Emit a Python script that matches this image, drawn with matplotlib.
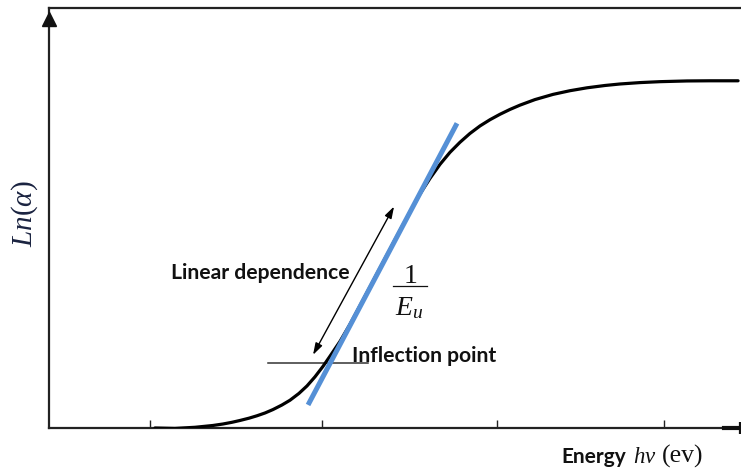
import matplotlib
matplotlib.use("Agg")
import matplotlib.pyplot as plt

plt.rcParams.update({
    "mathtext.fontset": "custom",
    "mathtext.rm": "Liberation Serif",
    "mathtext.it": "Liberation Serif:italic",
})

# Absorption edge: ln(alpha) versus photon energy
energy = [1.029, 1.145, 1.262, 1.366, 1.424, 1.477, 1.523, 1.576, 1.622, 1.669,
          1.715, 1.767, 1.814, 1.866, 1.913, 1.959, 2.006, 2.052, 2.105, 2.163,
          2.221, 2.279, 2.337, 2.395, 2.453, 2.512, 2.570, 2.628, 2.686, 2.744,
          2.802, 2.860, 2.919, 2.977, 3.035, 3.093, 3.151, 3.238, 3.343, 3.442,
          3.541, 3.645, 3.733, 3.849, 3.965, 4.122, 4.256, 4.419]
ln_alpha = [0.000, -0.010, 0.017, 0.060, 0.095, 0.136, 0.179, 0.234, 0.291, 0.358,
            0.439, 0.547, 0.661, 0.823, 1.002, 1.217, 1.468, 1.742, 2.064, 2.470,
            2.912, 3.358, 3.807, 4.253, 4.702, 5.143, 5.573, 5.943, 6.277, 6.563,
            6.802, 7.012, 7.193, 7.341, 7.470, 7.585, 7.687, 7.819, 7.943, 8.031,
            8.100, 8.155, 8.191, 8.224, 8.246, 8.263, 8.267, 8.267]

# Tangent through the linear (Urbach) region
tangent_x = [1.919, 2.785]
tangent_y = [0.549, 7.255]

# Inflection marker and the double arrow along the linear part
inflection_x = [1.686, 2.267]
inflection_y = [1.551, 1.551]
arrow_start = (2.419, 5.274)
arrow_end = (1.948, 1.742)

x_ticks = [1.0, 2.0, 3.02, 3.99]

fig = plt.figure(figsize=(7.41, 4.73), dpi=100)
ax = fig.add_axes([49 / 741, 45 / 473, 1 - 49 / 741, 420 / 473])
ax.set_xlim(0.413, 4.436)
ax.set_ylim(0, 10)

ax.plot(energy, ln_alpha, color="black", lw=2.3, solid_capstyle="round",
        solid_joinstyle="round", zorder=3)
ax.plot(tangent_x, tangent_y, color="#5590d6", lw=3.6, solid_capstyle="butt", zorder=4)
ax.plot(inflection_x, inflection_y, color="#333333", lw=1.1, zorder=2)

ax.annotate("", xy=arrow_start, xytext=arrow_end,
            arrowprops=dict(arrowstyle="<|-|>,head_length=0.7,head_width=0.22",
                            color="black", lw=1.0, shrinkA=0, shrinkB=0))

# Axis styling
ax.spines["right"].set_visible(False)
for side in ("left", "bottom", "top"):
    ax.spines[side].set_linewidth(1.6)
    ax.spines[side].set_color("#222222")
ax.set_xticks(x_ticks)
ax.set_xticklabels([])
ax.set_yticks([])
ax.tick_params(axis="x", direction="in", length=6, width=1.0, color="#222222")

ax.plot([0], [0.975], marker="^", ms=10, color="#111111", transform=ax.transAxes,
        clip_on=False, zorder=5)
ax.plot([0.975, 1.0], [0, 0], color="#111111", lw=3, transform=ax.transAxes,
        clip_on=False, zorder=5)
ax.plot([0.998], [0], marker="|", ms=9, mew=1.6, color="#111111",
        transform=ax.transAxes, clip_on=False, zorder=5)

# Axis titles
fig.text(25 / 741, 1 - 214 / 473, r"$Ln(\alpha)$", rotation=90, fontsize=21,
         color="#1a2340", ha="center", va="center")

W, H = 741, 473
base_y = 1 - 463 / H
fig.canvas.draw()
renderer = fig.canvas.get_renderer()
word = fig.text(561 / W, base_y, "Energy", fontsize=15, fontweight="bold",
                family="Lato", color="#111111", ha="left", va="baseline")
x_next = word.get_window_extent(renderer).x1 + 7
hv = fig.text(x_next / W, base_y, r"$hv$", fontsize=16.5, color="#111111",
              ha="left", va="baseline")
x_next = hv.get_window_extent(renderer).x1 + 6
fig.text(x_next / W, base_y, "(ev)", fontsize=18.5, family="Liberation Serif",
         color="#111111", ha="left", va="baseline")

# Annotations
ax.text(1.122, 3.556, "Linear dependence", fontsize=15.2, fontweight="bold",
        family="Lato", color="#111111", ha="left", va="baseline")
ax.text(2.174, 1.575, "Inflection point", fontsize=15.2, fontweight="bold",
        family="Lato", color="#111111", ha="left", va="baseline")

# Slope label 1/E_u
ax.text(2.517, 3.461, "1", fontsize=20, family="Liberation Serif",
        color="#111111", ha="center", va="baseline")
ax.plot([2.413, 2.610], [3.389, 3.389], color="#111111", lw=0.9)
ax.text(2.509, 2.697, r"$E_u$", fontsize=20, color="#111111",
        ha="center", va="baseline")

fig.savefig("out.png", dpi=100)
